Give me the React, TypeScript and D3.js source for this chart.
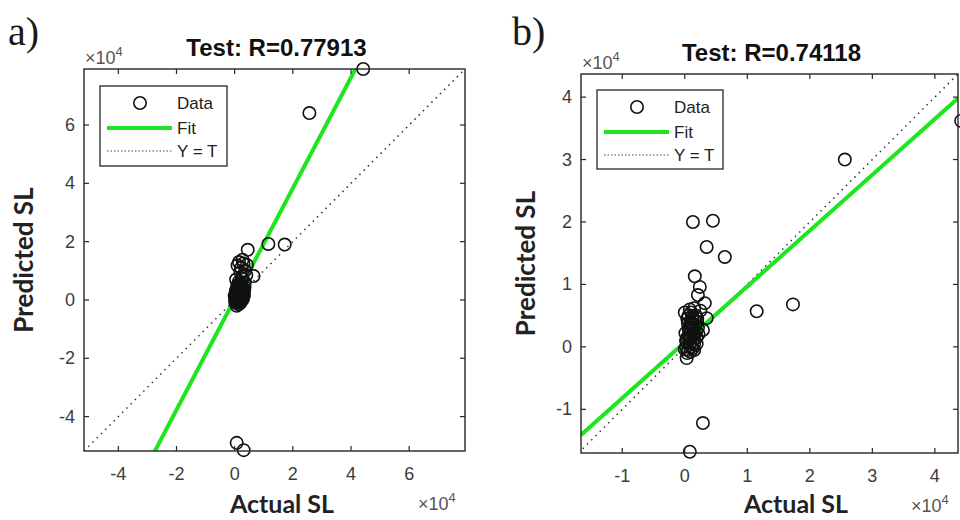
import React from 'react'
import * as d3 from 'd3'

// values are in units of 10^4 (as the axes show)
const ticksA = [-4, -2, 0, 2, 4, 6]
const ticksBX = [-1, 0, 1, 2, 3, 4]
const ticksBY = [-1, 0, 1, 2, 3, 4]

const titleA = 'Test: R=0.77913'
const titleB = 'Test: R=0.74118'
const fitA = { slope: 1.9, intercept: 0.03 }
const fitB = { slope: 0.894, intercept: 0.074 }

const dataA: [number, number][] = [
  [4.42, 7.92], [2.57, 6.41], [1.16, 1.92], [1.72, 1.9], [0.45, 1.72], [0.65, 0.82],
  [0.07, -4.9], [0.31, -5.15],
  [0.15, 1.3], [0.3, 1.25], [0.22, 1.1], [0.36, 1.0], [0.1, 1.18], [0.27, 1.38],
  [0.42, 1.2], [0.2, 0.95], [0.05, 0.7], [0.35, 0.6], [0.25, 0.75], [0.4, 0.85],
  [0.02, -0.08], [0.05, 0.0], [0.08, 0.05], [0.1, -0.05], [0.12, 0.1], [0.15, 0.2],
  [0.18, 0.0], [0.2, 0.15], [0.22, 0.3], [0.25, 0.25], [0.28, 0.4], [0.3, 0.2],
  [0.33, 0.35], [0.32, 0.15], [0.05, 0.2], [0.08, 0.3], [0.1, 0.4], [0.13, 0.45],
  [0.17, 0.42], [0.2, 0.48], [0.25, 0.46], [0.03, 0.1], [0.06, -0.1], [0.12, -0.1],
  [0.16, -0.06], [0.22, 0.05], [0.27, 0.1], [0.15, 0.35], [0.09, 0.15], [0.19, 0.28],
  [0.01, 0.05], [0.04, 0.32], [0.11, 0.22], [0.24, 0.38], [0.29, 0.05],
  [0.07, -0.2], [0.14, -0.15], [0.2, -0.1], [0.26, 0.0], [0.31, 0.28], [0.18, 0.55],
  [0.09, 0.5], [0.23, 0.58], [0.14, 0.62], [0.0, 0.15], [0.34, 0.45],
]

const dataB: [number, number][] = [
  [4.42, 3.62], [2.56, 3.0], [0.13, 2.0], [0.45, 2.02], [0.35, 1.6], [0.64, 1.44],
  [1.15, 0.57], [1.73, 0.68], [0.29, -1.22], [0.08, -1.68],
  [0.16, 1.13], [0.24, 0.96], [0.21, 0.83], [0.32, 0.7], [0.35, 0.46], [0.29, 0.27],
  [0.03, -0.18], [0.0, 0.55], [0.08, 0.6], [0.15, 0.62], [0.25, 0.58], [0.2, 0.45],
  [0.12, 0.5],
  [0.02, 0.0], [0.05, -0.05], [0.08, 0.05], [0.1, 0.0], [0.12, 0.1], [0.04, 0.15],
  [0.07, 0.2], [0.1, 0.25], [0.14, 0.3], [0.17, 0.35], [0.2, 0.4], [0.06, 0.3],
  [0.09, 0.4], [0.12, 0.45], [0.16, 0.2], [0.19, 0.15], [0.03, 0.08], [0.13, -0.02],
  [0.15, 0.05], [0.18, 0.25], [0.01, 0.22], [0.05, 0.38], [0.11, 0.35], [0.21, 0.3],
  [0.08, 0.12], [0.0, -0.04], [0.14, 0.18], [0.06, 0.5], [0.18, 0.5], [0.1, 0.55],
  [0.04, -0.1], [0.09, -0.08], [0.15, -0.05], [0.02, 0.1], [0.07, 0.28], [0.13, 0.22],
  [0.16, 0.42], [0.04, 0.45], [0.1, 0.15], [0.19, 0.05], [0.22, 0.2], [0.12, 0.38],
]

const AXIS = '#262626'
const TICKTXT = '#3c3c3c'
const GREEN = '#1ee61e'
const SANS = '"Liberation Sans", Arial, sans-serif'
const LABEL = 'Lato, "Open Sans", sans-serif'

interface PanelProps {
  id: string
  letter: string
  letterX: number
  title: string
  titleY: number
  box: { left: number; right: number; top: number; bottom: number }
  xDomain: [number, number]
  yDomain: [number, number]
  xTicks: number[]
  yTicks: number[]
  data: [number, number][]
  fit: { slope: number; intercept: number }
  legend: { x: number; y: number; w: number; h: number }
  ylabelX: number
  xlabelX: number
}

function Panel(p: PanelProps) {
  const { left, right, top, bottom } = p.box
  const x = d3.scaleLinear().domain(p.xDomain).range([left, right])
  const y = d3.scaleLinear().domain(p.yDomain).range([bottom, top])
  const line = d3.line<[number, number]>().x(d => x(d[0])).y(d => y(d[1]))
  const lo = Math.min(p.xDomain[0], p.yDomain[0])
  const hi = Math.max(p.xDomain[1], p.yDomain[1])
  const ideal: [number, number][] = [[lo, lo], [hi, hi]]
  const fitPts: [number, number][] = [
    [p.xDomain[0], p.fit.slope * p.xDomain[0] + p.fit.intercept],
    [p.xDomain[1], p.fit.slope * p.xDomain[1] + p.fit.intercept],
  ]
  const tl = 5
  const lg = p.legend
  return (
    <g>
      <defs>
        <clipPath id={`clip-${p.id}`}>
          <rect x={left} y={top} width={right - left} height={bottom - top} />
        </clipPath>
      </defs>
      <text x={p.letterX} y={45} fontFamily='"Liberation Serif", "DejaVu Serif", serif' fontSize={40} fill="#1a1a1a">{p.letter}</text>
      <text x={(left + right) / 2 + 2} y={p.titleY} textAnchor="middle" fontFamily={SANS} fontWeight="bold" fontSize={24} fill="#111">{p.title}</text>

      <g clipPath={`url(#clip-${p.id})`}>
        <path d={line(ideal) ?? ''} stroke="#333" strokeWidth={1.5} strokeDasharray="1.5,4.5" fill="none" />
        <path d={line(fitPts) ?? ''} stroke={GREEN} strokeWidth={4} fill="none" />
      </g>
      {p.data.map((d, i) => (
        <circle key={i} cx={x(d[0])} cy={y(d[1])} r={6.2} fill="none" stroke="#111" strokeWidth={1.6} />
      ))}

      {/* box and mirrored ticks */}
      <rect x={left} y={top} width={right - left} height={bottom - top} fill="none" stroke={AXIS} strokeWidth={1.4} />
      {p.xTicks.map(t => (
        <g key={'x' + t}>
          <line x1={x(t)} x2={x(t)} y1={bottom} y2={bottom - tl} stroke={AXIS} strokeWidth={1.2} />
          <line x1={x(t)} x2={x(t)} y1={top} y2={top + tl} stroke={AXIS} strokeWidth={1.2} />
          <text x={x(t)} y={bottom + 29} textAnchor="middle" fontFamily={SANS} fontSize={18} fill={TICKTXT}>{t}</text>
        </g>
      ))}
      {p.yTicks.map(t => (
        <g key={'y' + t}>
          <line x1={left} x2={left + tl} y1={y(t)} y2={y(t)} stroke={AXIS} strokeWidth={1.2} />
          <line x1={right} x2={right - tl} y1={y(t)} y2={y(t)} stroke={AXIS} strokeWidth={1.2} />
          <text x={left - 9} y={y(t) + 6} textAnchor="end" fontFamily={SANS} fontSize={18} fill={TICKTXT}>{t}</text>
        </g>
      ))}

      {/* exponent labels */}
      <text x={left + 1} y={top - 5} fontFamily={SANS} fontSize={18} fill="#555">
        ×10<tspan dy={-8} fontSize={13}>4</tspan>
      </text>
      <text x={right - 47} y={bottom + 59} fontFamily={SANS} fontSize={18} fill="#555">
        ×10<tspan dy={-8} fontSize={13}>4</tspan>
      </text>

      {/* axis labels */}
      <text x={p.xlabelX} y={513} textAnchor="middle" fontFamily={LABEL} fontWeight="bold" fontSize={25} fill="#222">Actual SL</text>
      <text transform={`translate(${p.ylabelX},${(top + bottom) / 2}) rotate(-90)`} textAnchor="middle" fontFamily={LABEL} fontWeight="bold" fontSize={26} fill="#222">Predicted SL</text>

      {/* legend */}
      <rect x={lg.x} y={lg.y} width={lg.w} height={lg.h} fill="#fff" stroke={AXIS} strokeWidth={1.3} />
      <circle cx={lg.x + 40} cy={lg.y + 17} r={6.2} fill="none" stroke="#111" strokeWidth={1.6} />
      <line x1={lg.x + 7} x2={lg.x + 72} y1={lg.y + 42} y2={lg.y + 42} stroke={GREEN} strokeWidth={4} />
      <line x1={lg.x + 7} x2={lg.x + 72} y1={lg.y + 65} y2={lg.y + 65} stroke="#444" strokeWidth={1} strokeDasharray="1.5,2" />
      <text x={lg.x + 77} y={lg.y + 23} fontFamily={SANS} fontSize={17} fill="#222">Data</text>
      <text x={lg.x + 77} y={lg.y + 48} fontFamily={SANS} fontSize={17} fill="#222">Fit</text>
      <text x={lg.x + 77} y={lg.y + 71} fontFamily={SANS} fontSize={17} fill="#222">Y = T</text>
    </g>
  )
}

export default function App() {
  return (
    <svg width={960} height={520} style={{ position: 'absolute', left: 0, top: 0, background: '#fff' }}>
      <rect width={960} height={520} fill="#fff" />
      <Panel
        id="a" letter="a)" letterX={8} title={titleA} titleY={56}
        box={{ left: 84, right: 465, top: 69, bottom: 451 }}
        xDomain={[-5.18, 7.92]} yDomain={[-5.18, 7.92]}
        xTicks={ticksA} yTicks={ticksA}
        data={dataA} fit={fitA}
        legend={{ x: 100, y: 86, w: 127, h: 80 }}
        ylabelX={33} xlabelX={282}
      />
      <Panel
        id="b" letter="b)" letterX={512} title={titleB} titleY={61}
        box={{ left: 581, right: 958, top: 74, bottom: 453 }}
        xDomain={[-1.66, 4.37]} yDomain={[-1.7, 4.37]}
        xTicks={ticksBX} yTicks={ticksBY}
        data={dataB} fit={fitB}
        legend={{ x: 597, y: 90, w: 126, h: 79 }}
        ylabelX={535} xlabelX={796}
      />
    </svg>
  )
}
